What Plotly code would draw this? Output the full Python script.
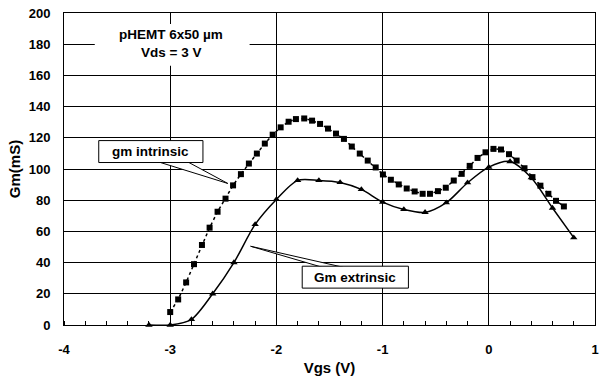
import plotly.graph_objects as go

# ---- data ----
vgs_int = [-3.000, -2.925, -2.850, -2.776, -2.701, -2.629, -2.554, -2.479, -2.408, -2.334,
           -2.259, -2.184, -2.109, -2.035, -1.960, -1.885, -1.816, -1.738, -1.664, -1.589,
           -1.514, -1.439, -1.364, -1.290, -1.215, -1.140, -1.065, -0.997, -0.922, -0.848,
           -0.773, -0.698, -0.623, -0.554, -0.479, -0.405, -0.330, -0.255, -0.180, -0.106,
           -0.031, 0.044, 0.115, 0.190, 0.262, 0.336, 0.411, 0.486, 0.561, 0.633, 0.707]
gm_int = [8.3, 16.4, 27.3, 39.0, 51.3, 62.4, 72.6, 81.0, 89.5, 96.7,
          103.5, 109.9, 116.3, 122.0, 126.7, 130.3, 132.0, 132.4, 131.0, 128.9,
          125.9, 122.7, 119.3, 114.4, 109.9, 105.4, 101.0, 96.5, 93.1, 90.1,
          87.5, 85.6, 84.1, 84.1, 85.8, 88.0, 92.6, 96.9, 102.0, 107.1,
          110.7, 112.9, 112.5, 109.5, 105.4, 100.5, 94.8, 89.3, 84.1, 79.6, 76.0]

vgs_ext = [-3.2, -3.0, -2.8, -2.6, -2.4, -2.2, -2.0, -1.8, -1.6, -1.4, -1.2,
           -1.0, -0.8, -0.6, -0.4, -0.2, 0.0, 0.2, 0.4, 0.6, 0.8]
gm_ext = [0.0, 0.0, 3.6, 20.0, 40.0, 64.5, 80.5, 92.7, 92.7, 91.4, 86.9,
          78.8, 74.1, 72.2, 78.4, 91.2, 101.2, 104.8, 94.4, 75.0, 56.0]

x_ticks = [-4, -3, -2, -1, 0, 1]
y_ticks = [0, 20, 40, 60, 80, 100, 120, 140, 160, 180, 200]

FONT = "Liberation Sans, Arial, sans-serif"

# plot area in pixels
L, R, T, B = 64, 599, 12, 325
XMIN, XMAX, YMIN, YMAX = -4, 1, 0, 200


def px2x(px):
    return XMIN + (px - L) / (R - L) * (XMAX - XMIN)


def px2y(py):
    return YMIN + (B - py) / (B - T) * (YMAX - YMIN)


fig = go.Figure()

fig.add_trace(go.Scatter(
    x=vgs_ext, y=gm_ext, mode="lines+markers",
    line=dict(color="black", width=1.5, shape="spline", smoothing=0.8),
    marker=dict(symbol="triangle-up", size=6.5, color="black"),
    showlegend=False, cliponaxis=False))

fig.add_trace(go.Scatter(
    x=vgs_int, y=gm_int, mode="lines+markers",
    line=dict(color="black", width=1.5, dash="dot"),
    marker=dict(symbol="square", size=6, color="black"),
    showlegend=False, cliponaxis=False))

shapes = []
# white box behind title text
shapes.append(dict(type="rect", xref="x", yref="y", layer="above",
                   x0=px2x(95), x1=px2x(251), y0=px2y(65), y1=px2y(23),
                   fillcolor="white", line=dict(width=0)))


def path(pts):
    s = "M " + " L ".join(f"{px2x(a)},{px2y(b)}" for a, b in pts) + " Z"
    return s


# callout wedges
shapes.append(dict(type="path", xref="x", yref="y", layer="above",
                   path=path([(158, 161), (229, 183), (188, 161)]),
                   fillcolor="white", line=dict(color="black", width=1)))
shapes.append(dict(type="path", xref="x", yref="y", layer="above",
                   path=path([(324, 267), (252, 246), (345, 267)]),
                   fillcolor="white", line=dict(color="black", width=1)))
# callout boxes
shapes.append(dict(type="rect", xref="x", yref="y", layer="above",
                   x0=px2x(99), x1=px2x(204), y0=px2y(162), y1=px2y(140),
                   fillcolor="white", line=dict(color="black", width=1)))
shapes.append(dict(type="rect", xref="x", yref="y", layer="above",
                   x0=px2x(304), x1=px2x(411), y0=px2y(288), y1=px2y(266),
                   fillcolor="white", line=dict(color="black", width=1)))

ann_font = dict(family=FONT, size=13.5, color="black", weight="bold")
annotations = [
    dict(x=px2x(172), y=px2y(34), xref="x", yref="y", text="pHEMT 6x50 µm",
         showarrow=False, font=ann_font),
    dict(x=px2x(172), y=px2y(52), xref="x", yref="y", text="Vds = 3 V",
         showarrow=False, font=ann_font),
    dict(x=px2x(151.5), y=px2y(151), xref="x", yref="y", text="gm intrinsic",
         showarrow=False, font=ann_font),
    dict(x=px2x(357.5), y=px2y(277), xref="x", yref="y", text="Gm extrinsic",
         showarrow=False, font=ann_font),
]

fig.update_layout(
    width=605, height=381,
    margin=dict(l=L, r=605 - R, t=T, b=381 - B, pad=0),
    paper_bgcolor="white", plot_bgcolor="white",
    font=dict(family=FONT, color="black"),
    shapes=shapes, annotations=annotations,
    xaxis=dict(
        range=[XMIN, XMAX], tickvals=x_ticks, ticktext=[str(v) for v in x_ticks],
        showgrid=True, gridcolor="black", gridwidth=1,
        showline=True, linecolor="black", linewidth=1, mirror=True,
        ticks="", zeroline=False, ticklabelstandoff=12,
        tickfont=dict(family=FONT, size=13, weight="bold"),
        minor=dict(dtick=0.2, tick0=0, ticks="inside", ticklen=4,
                   tickcolor="black", showgrid=False),
        title=dict(text="Vgs (V)", standoff=6,
                   font=dict(family=FONT, size=15, weight="bold")),
    ),
    yaxis=dict(
        range=[YMIN, YMAX], tickvals=y_ticks, ticktext=[str(v) for v in y_ticks],
        showgrid=True, gridcolor="black", gridwidth=1,
        showline=True, linecolor="black", linewidth=1, mirror=True,
        ticks="", zeroline=False, ticklabelstandoff=10,
        tickfont=dict(family=FONT, size=13, weight="bold"),
        title=dict(text="Gm(mS)", standoff=4,
                   font=dict(family=FONT, size=15, weight="bold")),
    ),
)

fig.write_html("out.html")
